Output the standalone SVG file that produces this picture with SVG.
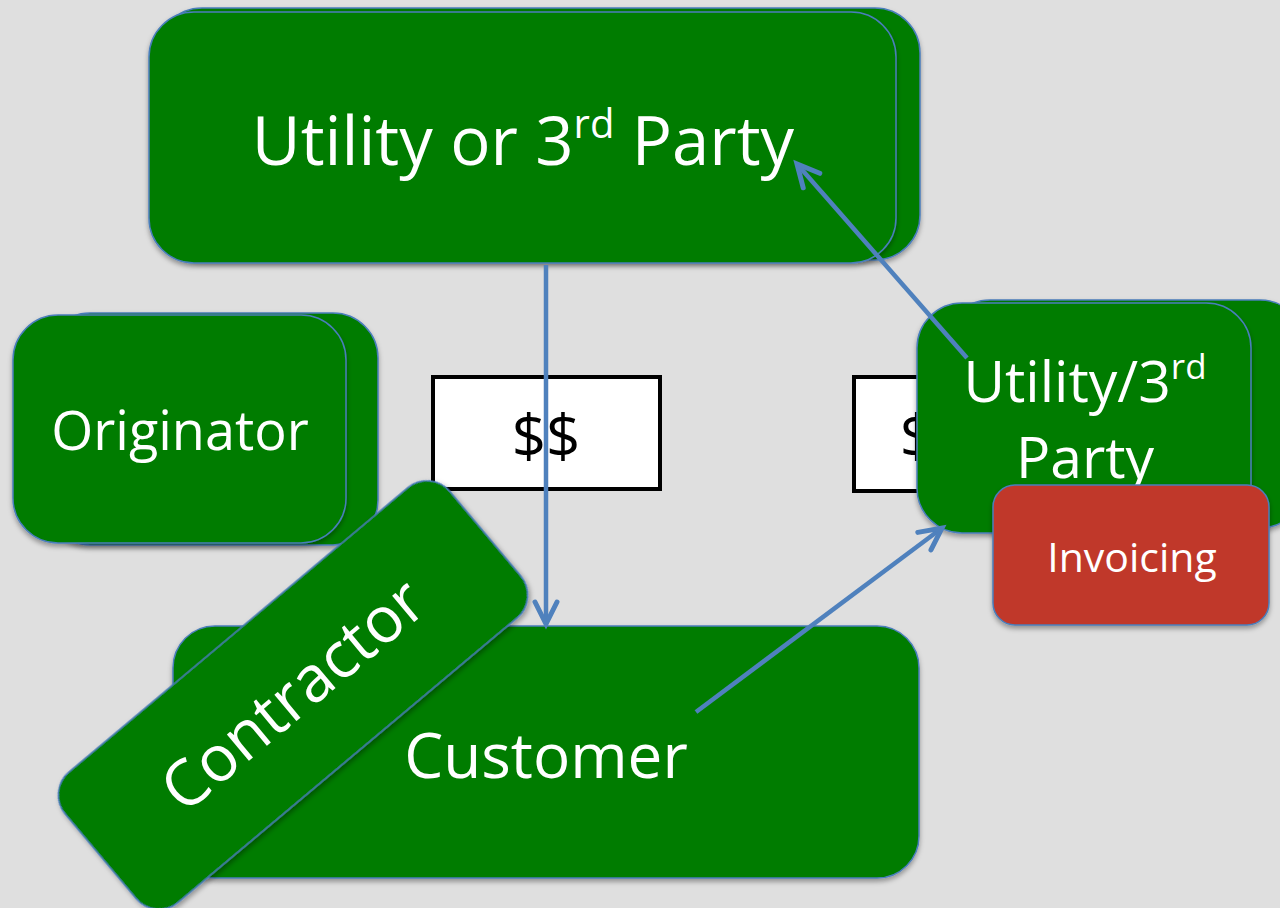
<svg xmlns="http://www.w3.org/2000/svg" width="1280" height="908" viewBox="0 0 1280 908">
  <defs>
    <filter id="shadow" x="-10%" y="-10%" width="120%" height="130%">
      <feDropShadow dx="0" dy="3" stdDeviation="2.5" flood-color="#000" flood-opacity="0.35"/>
    </filter>
    <marker id="arrow" markerUnits="userSpaceOnUse" viewBox="-26 -14 30 28" markerWidth="30" markerHeight="28" refX="0" refY="0" orient="auto" overflow="visible">
      <path d="M-22,-11 L0,0 L-22,11" fill="none" stroke="#4F81BD" stroke-width="5" stroke-linecap="round" stroke-linejoin="miter"/>
    </marker>
    <style>
      .box { fill: #007C00; stroke: #4A7EBB; stroke-width: 1.5; filter: url(#shadow); }
      .red { fill: #C0392B; stroke: #4A7EBB; stroke-width: 1.5; filter: url(#shadow); }
      .money { fill: #FFFFFF; stroke: #000000; stroke-width: 4; }
      .lbl { fill: #FFFFFF; font-family: "Open Sans", "Noto Sans", sans-serif; text-anchor: middle; }
      .dol { fill: #000000; font-family: "Open Sans", "Noto Sans", sans-serif; text-anchor: middle; }
      .conn { stroke: #4F81BD; stroke-width: 4.5; fill: none; marker-end: url(#arrow); }
    </style>
  </defs>

  <rect width="1280" height="908" fill="#DFDFDF"/>

  <!-- top provider -->
  <g id="utility-top">
    <rect class="box" x="157" y="8" width="763" height="252" rx="45"/>
    <rect class="box" x="149" y="12" width="747" height="251" rx="45"/>
    <text class="lbl" x="523" y="165" font-size="67">Utility or 3<tspan font-size="40" dy="-27">rd</tspan><tspan dy="27"> Party</tspan></text>
  </g>

  <!-- originator -->
  <g id="originator">
    <rect class="box" x="45" y="313" width="333" height="232" rx="45"/>
    <rect class="box" x="13" y="315" width="333" height="228" rx="45"/>
    <text class="lbl" x="180" y="450" font-size="54">Originator</text>
  </g>

  <!-- money boxes -->
  <g id="money-left">
    <rect class="money" x="433" y="377" width="227" height="112"/>
    <text class="dol" x="546" y="458" font-size="60">$$</text>
  </g>
  <g id="money-right">
    <rect class="money" x="854" y="377" width="130" height="114"/>
    <text class="dol" x="917" y="458" font-size="60">$</text>
  </g>

  <!-- utility / 3rd party side node -->
  <g id="utility-side">
    <rect class="box" x="945" y="300" width="360" height="228" rx="45"/>
    <rect class="box" x="917" y="303" width="334" height="230" rx="45"/>
    <text class="lbl" x="1085" y="402" font-size="57">Utility/3<tspan font-size="35" dy="-23">rd</tspan></text>
    <text class="lbl" x="1085" y="478" font-size="57">Party</text>
  </g>

  <!-- invoicing -->
  <g id="invoicing">
    <rect class="red" x="993" y="485" width="276" height="140" rx="22"/>
    <text class="lbl" x="1132" y="572" font-size="41">Invoicing</text>
  </g>

  <!-- customer -->
  <g id="customer">
    <rect class="box" x="173" y="626" width="746" height="252" rx="42"/>
    <text class="lbl" x="546" y="778" font-size="62">Customer</text>
  </g>

  <!-- contractor (tilted) -->
  <g id="contractor" transform="translate(293,695) rotate(-40)">
    <rect class="box" x="-251" y="-85" width="502" height="170" rx="30"/>
    <text class="lbl" x="0" y="22" font-size="64">Contractor</text>
  </g>

  <!-- connectors -->
  <g id="connectors">
    <line class="conn" x1="546" y1="265" x2="546" y2="624"/>
    <line class="conn" x1="967" y1="358" x2="797" y2="164"/>
    <line class="conn" x1="696" y1="712" x2="942" y2="528"/>
  </g>
</svg>
